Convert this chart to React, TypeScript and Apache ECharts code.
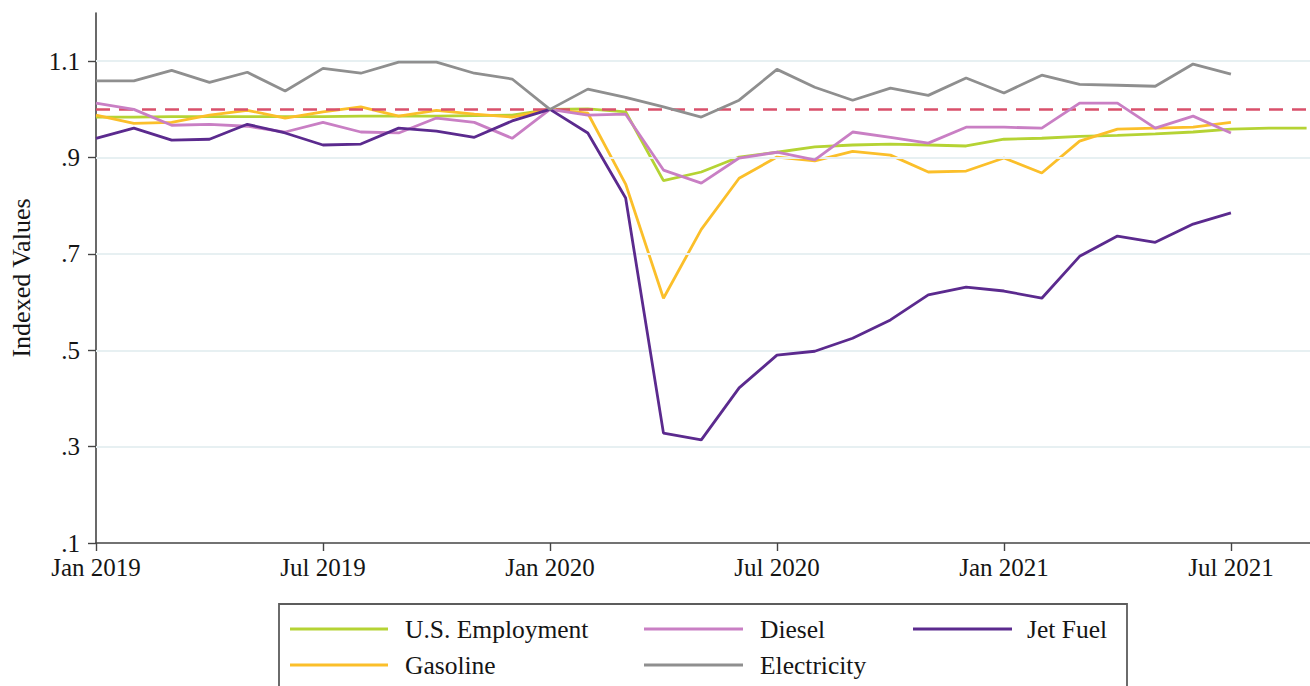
import React, { useEffect, useRef } from 'react';
import * as echarts from 'echarts';

// ---------- data ----------
const months = [
  '2019-01', '2019-02', '2019-03', '2019-04', '2019-05', '2019-06', '2019-07', '2019-08', '2019-09', '2019-10', '2019-11', '2019-12',
  '2020-01', '2020-02', '2020-03', '2020-04', '2020-05', '2020-06', '2020-07', '2020-08', '2020-09', '2020-10', '2020-11', '2020-12',
  '2021-01', '2021-02', '2021-03', '2021-04', '2021-05', '2021-06', '2021-07', '2021-08', '2021-09',
];
const xTickMonths = ['2019-01', '2019-07', '2020-01', '2020-07', '2021-01', '2021-07'];
const xTickLabels = ['Jan 2019', 'Jul 2019', 'Jan 2020', 'Jul 2020', 'Jan 2021', 'Jul 2021'];
const yTickValues = [0.1, 0.3, 0.5, 0.7, 0.9, 1.1];
const gridValues = [0.3, 0.5, 0.7, 0.9, 1.1];
const referenceValue = 1;

const employment = [
  0.984, 0.984, 0.985, 0.985, 0.985, 0.985, 0.985, 0.986, 0.986, 0.986, 0.987, 0.988,
  1.0, 1.001, 0.995, 0.852, 0.870, 0.901, 0.911, 0.922, 0.926, 0.928, 0.926, 0.924,
  0.938, 0.940, 0.944, 0.946, 0.949, 0.953, 0.959, 0.961, 0.961,
];
const gasoline = [
  0.988, 0.971, 0.973, 0.988, 0.998, 0.982, 0.995, 1.005, 0.986, 0.998, 0.990, 0.984,
  1.0, 0.992, 0.845, 0.608, 0.751, 0.857, 0.901, 0.893, 0.913, 0.905, 0.870, 0.872,
  0.899, 0.868, 0.934, 0.959, 0.961, 0.963, 0.973,
];
const diesel = [
  1.013, 1.0, 0.967, 0.969, 0.965, 0.953, 0.973, 0.953, 0.951, 0.982, 0.973, 0.940,
  1.0, 0.988, 0.990, 0.874, 0.847, 0.899, 0.911, 0.895, 0.953, 0.942, 0.930, 0.963,
  0.963, 0.961, 1.013, 1.013, 0.961, 0.986, 0.951,
];
const jetFuel = [
  0.940, 0.961, 0.936, 0.938, 0.969, 0.951, 0.926, 0.928, 0.961, 0.955, 0.942, 0.976,
  1.0, 0.951, 0.816, 0.328, 0.314, 0.422, 0.490, 0.498, 0.525, 0.563, 0.615, 0.631,
  0.623, 0.608, 0.695, 0.737, 0.724, 0.762, 0.785,
];
const electricity = [
  1.059, 1.059, 1.081, 1.056, 1.077, 1.038, 1.085, 1.075, 1.098, 1.098, 1.075, 1.063,
  1.0, 1.042, 1.025, 1.005, 0.984, 1.019, 1.083, 1.046, 1.019, 1.044, 1.029, 1.065,
  1.034, 1.071, 1.052, 1.050, 1.048, 1.094, 1.073,
];

const seriesNames = ['U.S. Employment', 'Gasoline', 'Diesel', 'Jet Fuel', 'Electricity'];
const seriesValues = [employment, gasoline, diesel, jetFuel, electricity];
const seriesColors = ['#b5d334', '#fbbf2a', '#c97fc4', '#5b2a8e', '#8f8f8f'];
const legendOrder = ['U.S. Employment', 'Diesel', 'Jet Fuel', 'Gasoline', 'Electricity'];

// ---------- styles ----------
const FONT = '"Liberation Serif", "Times New Roman", Times, serif';
const TEXT_COLOR = '#151515';
const AXIS_COLOR = '#444';
const LINE_W = 2.8;

export default function App() {
  const ref = useRef<HTMLDivElement>(null);

  useEffect(() => {
    if (!ref.current) return;
    const chart = echarts.init(ref.current, undefined, { renderer: 'svg' });

    const xTickValues = xTickMonths.map((m) => months.indexOf(m));

    const lineSeries = seriesNames.map((name, k) => ({
      name,
      type: 'line',
      data: seriesValues[k].map((v, i) => [i, v]),
      symbol: 'none',
      lineStyle: { color: seriesColors[k], width: LINE_W },
      itemStyle: { color: seriesColors[k] },
      z: 3 + k,
      silent: true,
    }));

    // legend via graphic
    const colX = [
      { l1: 290, l2: 388, t: 405 },
      { l1: 644, l2: 743, t: 760 },
      { l1: 913, l2: 1012, t: 1027 },
    ];
    const rowY = [629, 665];
    const legendEls: any[] = [
      {
        type: 'rect',
        shape: { x: 279, y: 604, width: 848, height: 110 },
        style: { fill: 'none', stroke: '#5c5c5c', lineWidth: 1.8 },
      },
    ];
    legendOrder.forEach((name, k) => {
      const col = colX[k % 3];
      const y = rowY[Math.floor(k / 3)];
      const idx = seriesNames.indexOf(name);
      legendEls.push({
        type: 'line',
        shape: { x1: col.l1, y1: y, x2: col.l2, y2: y },
        style: { stroke: seriesColors[idx], lineWidth: LINE_W },
      });
      legendEls.push({
        type: 'text',
        x: col.t,
        y: y,
        style: {
          text: name,
          fill: TEXT_COLOR,
          fontSize: 25.5,
          fontFamily: FONT,
          verticalAlign: 'middle',
          align: 'left',
        },
      });
    });

    const option: any = {
      animation: false,
      backgroundColor: '#ffffff',
      grid: { left: 96, right: 0, top: 13, bottom: 143, containLabel: false },
      xAxis: {
        type: 'value',
        min: 0,
        max: 32.09,
        interval: 6,
        axisLine: { show: true, onZero: false, lineStyle: { color: AXIS_COLOR, width: 1.6 } },
        axisTick: { show: true, length: 8, customValues: xTickValues, lineStyle: { color: AXIS_COLOR, width: 1.4 } },
        axisLabel: {
          customValues: xTickValues,
          formatter: (v: number) => {
            const i = xTickValues.indexOf(Math.round(v));
            return i >= 0 ? xTickLabels[i] : '';
          },
          fontSize: 25,
          fontFamily: FONT,
          color: TEXT_COLOR,
          margin: 12,
        },
        splitLine: { show: false },
      },
      yAxis: {
        type: 'value',
        min: 0.1,
        max: 1.2,
        interval: 0.2,
        name: 'Indexed Values',
        nameLocation: 'middle',
        nameGap: 62,
        nameTextStyle: { fontSize: 26, fontFamily: FONT, color: TEXT_COLOR },
        axisLine: { show: true, onZero: false, lineStyle: { color: AXIS_COLOR, width: 1.6 } },
        axisTick: { show: true, length: 8, customValues: yTickValues, lineStyle: { color: AXIS_COLOR, width: 1.4 } },
        axisLabel: {
          customValues: yTickValues,
          formatter: (v: number) => {
            if (v > 1.15) return '';
            const s = v.toFixed(1);
            return s.startsWith('0') ? s.slice(1) : s;
          },
          fontSize: 25,
          fontFamily: FONT,
          color: TEXT_COLOR,
          margin: 16,
        },
        splitLine: { show: false },
      },
      series: [
        {
          name: 'gridlines',
          type: 'line',
          data: [],
          z: 1,
          silent: true,
          markLine: {
            silent: true,
            symbol: ['none', 'none'],
            label: { show: false },
            lineStyle: { color: '#e7f0f2', width: 2, type: 'solid' },
            data: gridValues.map((v) => ({ yAxis: v })),
          },
        },
        ...lineSeries,
        {
          name: 'reference',
          type: 'line',
          data: [],
          z: 20,
          silent: true,
          markLine: {
            silent: true,
            symbol: ['none', 'none'],
            label: { show: false },
            lineStyle: { color: '#d9506b', width: 2.6, type: [14, 9] },
            data: [{ yAxis: referenceValue }],
          },
        },
      ],
      graphic: legendEls,
    };

    chart.setOption(option);
    return () => chart.dispose();
  }, []);

  return (
    <div
      ref={ref}
      style={{ position: 'fixed', left: 0, top: 0, width: 1310, height: 686, background: '#fff' }}
    />
  );
}
